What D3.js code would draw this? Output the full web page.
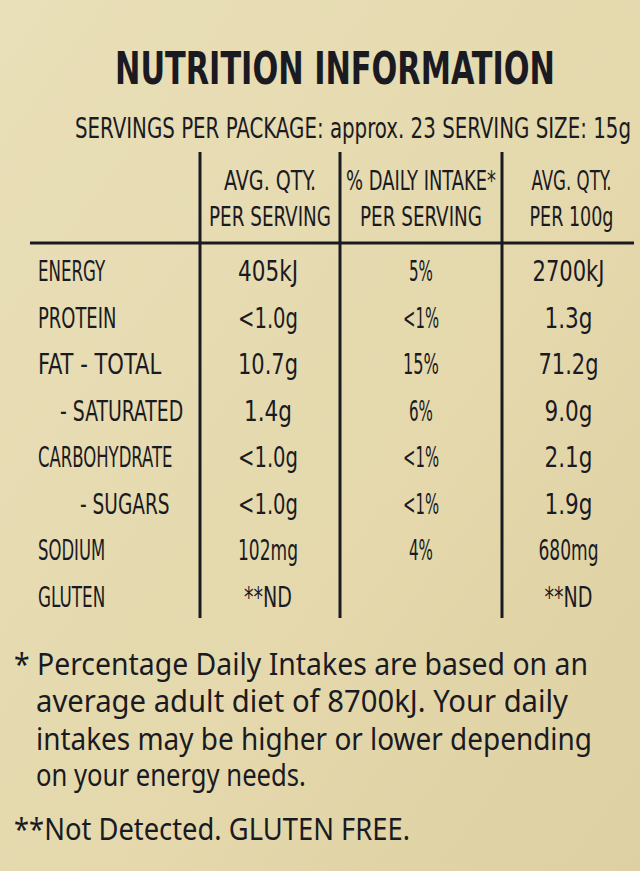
<!DOCTYPE html>
<html><head><meta charset="utf-8">
<script src="https://cdn.jsdelivr.net/npm/d3@7"></script>
<style>body{margin:0;background:#e6dbb2}svg{display:block}</style>
</head><body><svg id="c" width="640" height="871"></svg>
<script>
const nutrients = ["ENERGY","PROTEIN","FAT - TOTAL","- SATURATED","CARBOHYDRATE","- SUGARS","SODIUM","GLUTEN"];
const indent = [0,0,0,22,0,42,0,0];
const perServing = ["405kJ","<1.0g","10.7g","1.4g","<1.0g","<1.0g","102mg","**ND"];
const dailyIntake = ["5%","<1%","15%","6%","<1%","<1%","4%",""];
const per100g = ["2700kJ","1.3g","71.2g","9.0g","2.1g","1.9g","680mg","**ND"];
const headers = [["AVG. QTY.","PER SERVING"],["% DAILY INTAKE*","PER SERVING"],["AVG. QTY.","PER 100g"]];
const footnotes = ["* Percentage Daily Intakes are based on an","average adult diet of 8700kJ. Your daily","intakes may be higher or lower depending","on your energy needs."];
const footnote2 = "**Not Detected. GLUTEN FREE.";

const svg = d3.select("#c");
const defs = svg.append("defs");
const g = defs.append("linearGradient").attr("id","bg").attr("x1",0).attr("y1",0).attr("x2",1).attr("y2",1);
g.append("stop").attr("offset",0).attr("stop-color","#e9dfb8");
g.append("stop").attr("offset",0.6).attr("stop-color","#e4d8ac");
g.append("stop").attr("offset",1).attr("stop-color","#ddd0a2");
svg.append("rect").attr("width",640).attr("height",871).attr("fill","url(#bg)");
const ink="#1a1a22", font="'DejaVu Sans Condensed','Liberation Sans Narrow',sans-serif";
const fit=(sel,w)=>sel.attr("textLength",w).attr("lengthAdjust","spacingAndGlyphs");

fit(svg.append("text").attr("x",335).attr("y",84).attr("text-anchor","middle").attr("font-family",font)
 .attr("font-weight","bold").attr("font-size",44).attr("fill",ink),440).text("NUTRITION INFORMATION");
fit(svg.append("text").attr("x",75).attr("y",138).attr("font-family",font).attr("font-size",29).attr("fill",ink),556)
 .text("SERVINGS PER PACKAGE: approx. 23  SERVING SIZE: 15g");

const colX=[200,340,502], colW=[140,162,133];
const cx = i=>colX[i]+colW[i]/2;
const y = d3.scaleBand().domain(d3.range(nutrients.length)).range([248,620]);

colX.forEach(x=>svg.append("line").attr("x1",x).attr("x2",x).attr("y1",152).attr("y2",618).attr("stroke",ink).attr("stroke-width",3));
svg.append("line").attr("x1",30).attr("x2",634).attr("y1",243).attr("y2",243).attr("stroke",ink).attr("stroke-width",3);

const headW=[[92,122],[150,122],[80,84]];
headers.forEach((h,i)=>h.forEach((t,j)=>{
  fit(svg.append("text").attr("x",cx(i)+(i===2?3:0)).attr("y",190+j*36).attr("text-anchor","middle").attr("font-family",font)
   .attr("font-size",26).attr("fill",ink),headW[i][j]).text(t);
}));

const rowY = i=>y(i)+y.bandwidth()/2+10;
nutrients.forEach((n,i)=>{
  fit(svg.append("text").attr("x",38+indent[i]).attr("y",rowY(i)).attr("font-family",font)
   .attr("font-size",28).attr("fill",ink),n.length*11.2).text(n);
});
[perServing,dailyIntake,per100g].forEach((arr,c)=>arr.forEach((v,i)=>{
  if(!v) return;
  fit(svg.append("text").attr("x",cx(c)+(c===0?-2:0)).attr("y",rowY(i)).attr("text-anchor","middle").attr("font-family",font)
   .attr("font-size",29).attr("fill",ink),v.length*12).text(v);
}));

const fy=[675,712,750,786], fw=[574,532,556,270];
footnotes.forEach((t,i)=>fit(svg.append("text").attr("x",i===0?14:36).attr("y",fy[i]).attr("font-family","'Noto Sans',sans-serif")
  .attr("font-size",30).attr("fill",ink),fw[i]).text(t));
fit(svg.append("text").attr("x",14).attr("y",840).attr("font-family","'Noto Sans',sans-serif").attr("font-size",30).attr("fill",ink),396).text(footnote2);
</script></body></html>
